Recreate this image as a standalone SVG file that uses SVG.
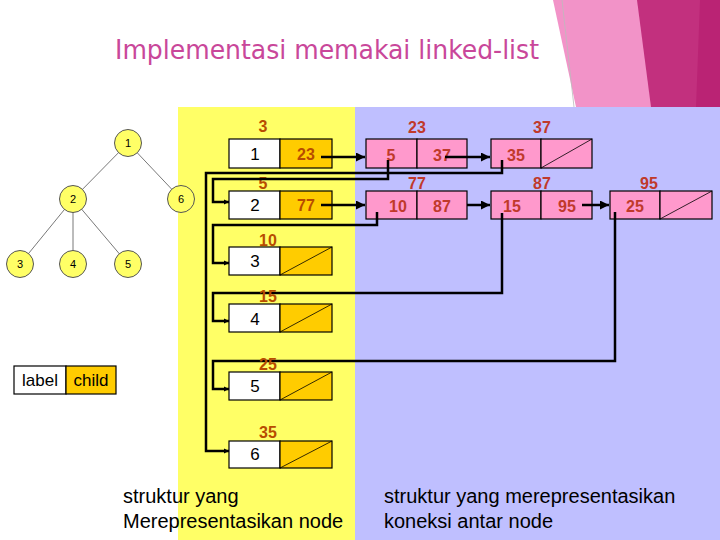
<svg xmlns="http://www.w3.org/2000/svg" width="720" height="540" viewBox="0 0 720 540">
<defs>
<style>
.bg{stroke:none}
.cell{stroke:#000;stroke-width:1.2}
.w{fill:#fff}
.o{fill:#FFCC00}
.p{fill:#FF99CC}
.diag{stroke:#000;stroke-width:0.8;fill:none}
.lbl{font-family:"Liberation Sans",Arial,sans-serif;font-size:16px;font-weight:bold;text-anchor:middle}
.yl{fill:#B84C00}
.pl{fill:#C0392B}
.num{font-family:"Liberation Sans",Arial,sans-serif;font-size:17px;fill:#000;text-anchor:middle}
.conn{stroke:#000;stroke-width:2.5;fill:none}
.tree{stroke:#555;stroke-width:0.8}
.tc{fill:#FFFF66;stroke:#555;stroke-width:1}
.tt{font-family:"Liberation Sans",Arial,sans-serif;font-size:11px;fill:#000;text-anchor:middle}
.cap{font-family:"Liberation Sans",Arial,sans-serif;font-size:20px;fill:#000}
</style>
<marker id="ah" viewBox="0 0 10 10" refX="10" refY="5" markerWidth="3.6" markerHeight="3.6" orient="auto" markerUnits="strokeWidth">
<path d="M0,0 L10,5 L0,10 z" fill="#000"/>
</marker>
<marker id="as" viewBox="0 0 10 10" refX="10" refY="5" markerWidth="2.2" markerHeight="2.2" orient="auto" markerUnits="strokeWidth">
<path d="M0,0 L10,5 L0,10 z" fill="#000"/>
</marker>
</defs>

<!-- background decoration -->
<rect x="0" y="0" width="720" height="540" fill="#fff"/>
<polygon class="bg" points="553,0 720,0 720,107 576,107" fill="#F293C8"/>
<line x1="562" y1="0" x2="574" y2="107" stroke="#bbb" stroke-width="0.8"/>
<polygon class="bg" points="637,0 720,0 720,107 651,107" fill="#C2307E"/>
<polygon class="bg" points="700,0 720,0 720,107 696,107" fill="#BA2374"/>
<rect class="bg" x="178" y="107" width="177" height="433" fill="#FFFF66"/>
<rect class="bg" x="355" y="107" width="365" height="433" fill="#BFBFFF"/>

<text x="115" y="59" font-family="'DejaVu Sans Condensed','DejaVu Sans',sans-serif" font-size="26" fill="#C9479A" textLength="424" lengthAdjust="spacingAndGlyphs">Implementasi memakai linked-list</text>

<!-- tree -->
<g id="tree">
<line class="tree" x1="128" y1="143" x2="73" y2="199"/>
<line class="tree" x1="128" y1="143" x2="181" y2="199"/>
<line class="tree" x1="73" y1="199" x2="20" y2="264"/>
<line class="tree" x1="73" y1="199" x2="73" y2="264"/>
<line class="tree" x1="73" y1="199" x2="128" y2="264"/>
<g id="t1"><circle class="tc" cx="128" cy="143" r="13.5"/><text class="tt" x="128" y="147">1</text></g>
<g id="t2"><circle class="tc" cx="73" cy="199" r="13.5"/><text class="tt" x="73" y="203">2</text></g>
<g id="t6"><circle class="tc" cx="181" cy="199" r="13.5"/><text class="tt" x="181" y="203">6</text></g>
<g id="t3"><circle class="tc" cx="20" cy="264" r="13.5"/><text class="tt" x="20" y="268">3</text></g>
<g id="t4"><circle class="tc" cx="73" cy="264" r="13.5"/><text class="tt" x="73" y="268">4</text></g>
<g id="t5"><circle class="tc" cx="128" cy="264" r="13.5"/><text class="tt" x="128" y="268">5</text></g>
</g>

<!-- legend -->
<g id="legend">
<rect class="cell w" x="14" y="366" width="52" height="28"/>
<rect class="cell o" x="66" y="366" width="50" height="28"/>
<text class="num" x="40" y="386">label</text>
<text class="num" x="91" y="386">child</text>
</g>

<!-- node structures -->
<g id="n1">
<text class="lbl yl" x="263" y="132">3</text>
<rect class="cell w" x="229" y="139" width="51" height="29"/>
<rect class="cell o" x="280" y="139" width="52" height="29"/>
<text class="num" x="255" y="160">1</text>
<text class="lbl yl" x="306" y="160">23</text>
</g>
<g id="n2">
<text class="lbl yl" x="263" y="189">5</text>
<rect class="cell w" x="229" y="191" width="51" height="28"/>
<rect class="cell o" x="280" y="191" width="52" height="28"/>
<text class="num" x="255" y="211">2</text>
<text class="lbl yl" x="306" y="211">77</text>
</g>
<g id="n3">
<rect class="cell w" x="229" y="247" width="51" height="28"/>
<rect class="cell o" x="280" y="247" width="52" height="28"/>
<line class="diag" x1="280" y1="275" x2="332" y2="247"/>
<text class="num" x="255" y="267">3</text>
</g>
<g id="n4">
<rect class="cell w" x="229" y="304" width="51" height="28"/>
<rect class="cell o" x="280" y="304" width="52" height="28"/>
<line class="diag" x1="280" y1="332" x2="332" y2="304"/>
<text class="num" x="255" y="325">4</text>
</g>
<g id="n5">
<rect class="cell w" x="229" y="372" width="51" height="28"/>
<rect class="cell o" x="280" y="372" width="52" height="28"/>
<line class="diag" x1="280" y1="400" x2="332" y2="372"/>
<text class="num" x="255" y="392">5</text>
</g>
<g id="n6">
<rect class="cell w" x="229" y="441" width="51" height="27"/>
<rect class="cell o" x="280" y="441" width="52" height="27"/>
<line class="diag" x1="280" y1="468" x2="332" y2="441"/>
<text class="num" x="255" y="460">6</text>
</g>

<!-- edge structures -->
<g id="e23">
<text class="lbl pl" x="417" y="133">23</text>
<rect class="cell p" x="366" y="139" width="51" height="29"/>
<rect class="cell p" x="417" y="139" width="50" height="29"/>
<text class="lbl pl" x="391" y="161">5</text>
<text class="lbl pl" x="442" y="161">37</text>
</g>
<g id="e37">
<text class="lbl pl" x="542" y="133">37</text>
<rect class="cell p" x="491" y="139" width="50" height="29"/>
<rect class="cell p" x="541" y="139" width="51" height="29"/>
<line class="diag" x1="541" y1="168" x2="592" y2="139"/>
<text class="lbl pl" x="516" y="161">35</text>
</g>
<g id="e77">
<text class="lbl pl" x="417" y="189">77</text>
<rect class="cell p" x="366" y="191" width="51" height="28"/>
<rect class="cell p" x="417" y="191" width="50" height="28"/>
<text class="lbl pl" x="398" y="212">10</text>
<text class="lbl pl" x="442" y="212">87</text>
</g>
<g id="e87">
<text class="lbl pl" x="542" y="189">87</text>
<rect class="cell p" x="491" y="191" width="50" height="28"/>
<rect class="cell p" x="541" y="191" width="51" height="28"/>
<text class="lbl pl" x="512" y="212">15</text>
<text class="lbl pl" x="567" y="212">95</text>
</g>
<g id="e95">
<text class="lbl pl" x="649" y="189">95</text>
<rect class="cell p" x="610" y="191" width="50" height="28"/>
<rect class="cell p" x="660" y="191" width="52" height="28"/>
<line class="diag" x1="660" y1="219" x2="712" y2="191"/>
<text class="lbl pl" x="635" y="212">25</text>
</g>

<!-- connectors -->
<g id="connectors">
<path class="conn" d="M321,157 H365" marker-end="url(#ah)"/>
<path class="conn" d="M321,205 H365" marker-end="url(#ah)"/>
<path class="conn" d="M445,157 H490" marker-end="url(#ah)"/>
<path class="conn" d="M467,205 H490" marker-end="url(#ah)"/>
<path class="conn" d="M582,205 H609" marker-end="url(#ah)"/>
<path class="conn" d="M502,160 V173 H206 V451 H229" marker-end="url(#as)"/>
<path class="conn" d="M388,160 V179 H213 V202 H229" marker-end="url(#as)"/>
<path class="conn" d="M377,212 V225 H213 V263 H229" marker-end="url(#as)"/>
<path class="conn" d="M502,213 V293 H213 V321 H229" marker-end="url(#as)"/>
<path class="conn" d="M615,212 V361 H213 V389 H229" marker-end="url(#as)"/>
</g>

<!-- labels above nodes 3-6 drawn over lines -->
<text class="lbl yl" x="268" y="246">10</text>
<text class="lbl yl" x="268" y="302">15</text>
<text class="lbl yl" x="268" y="370">25</text>
<text class="lbl yl" x="268" y="438">35</text>

<text class="cap" x="123" y="503">struktur yang</text>
<text class="cap" x="123" y="528">Merepresentasikan node</text>
<text class="cap" x="384" y="503">struktur yang merepresentasikan</text>
<text class="cap" x="384" y="528">koneksi antar node</text>
</svg>
